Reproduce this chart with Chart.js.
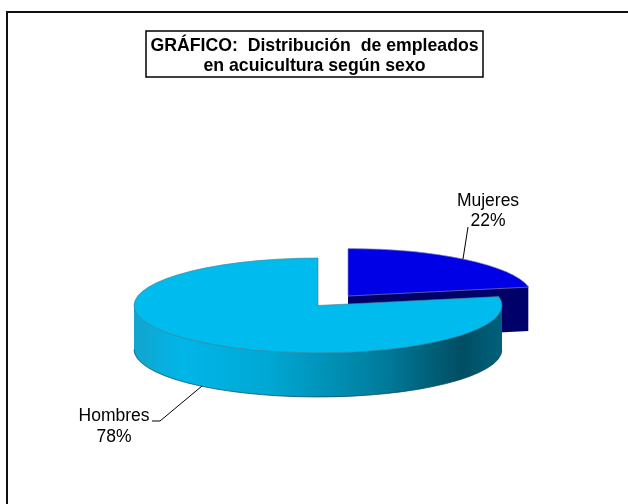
<!DOCTYPE html>
<html><head><meta charset="utf-8">
<style>html,body{margin:0;padding:0;background:#fff}#w{position:relative;width:628px;height:504px}canvas{position:absolute;left:0;top:0}</style>
<script src="https://cdn.jsdelivr.net/npm/chart.js@4/dist/chart.umd.min.js"></script>
</head><body><div id="w"><canvas id="c" width="628" height="504"></canvas></div>
<script>
const categories = ['Hombres', 'Mujeres'];
const percentages = [78, 22];
const topColors = ['#00BBEE', '#0000E6'];
const sideColors = ['#00BBEE', '#00006A'];
const titleLines = ['GRÁFICO:  Distribución  de empleados', 'en acuicultura según sexo'];
const FONT = '"Liberation Sans", Arial, sans-serif';

const squash = 0.258, cyFix = 305.5, cxFix = 318, depth = 44, radius = 184;

const pie3d = {
  id: 'pie3d',
  beforeDraw(chart) {
    const c = chart.ctx;
    c.save();
    c.fillStyle = '#fff'; c.fillRect(0, 0, 628, 504);
    c.strokeStyle = '#111'; c.lineWidth = 2;
    c.beginPath(); c.moveTo(628, 12); c.lineTo(7, 12); c.lineTo(7, 504); c.stroke();
    c.restore();
  },
  beforeDatasetsDraw(chart) {
    const meta = chart.getDatasetMeta(0);
    const c = chart.ctx;
    const a0 = meta.data[0], a1 = meta.data[1];
    const drawArc = (arc, fill, stroke, off, offx) => {
      c.save();
      c.translate(cxFix + (offx || 0), cyFix + off);
      c.scale(1, squash);
      c.translate(-a0.x, -a0.y);
      const o = arc.options, f = o.backgroundColor, s = o.borderColor, w = o.borderWidth;
      o.backgroundColor = fill; o.borderColor = stroke; o.borderWidth = stroke === fill ? 0 : 1;
      arc.draw(c);
      o.backgroundColor = f; o.borderColor = s; o.borderWidth = w;
      c.restore();
    };
    const mx = 30, my = -9.5;
    for (let i = depth; i > 0; i -= 1) drawArc(a1, sideColors[1], sideColors[1], i + my, mx);
    drawArc(a1, topColors[1], '#8a8ab0', my, mx);
    const g = c.createLinearGradient(134, 0, 502, 0);
    g.addColorStop(0, '#10A6CF'); g.addColorStop(0.12, '#00B6E8'); g.addColorStop(0.35, '#00A8D4');
    g.addColorStop(0.65, '#007FA0'); g.addColorStop(0.88, '#004E63'); g.addColorStop(1, '#00637E');
    for (let i = depth; i > 0; i -= 1) drawArc(a0, g, g, i, 0);
    drawArc(a0, topColors[0], '#4a8090', 0, 0);
    c.save();
    c.strokeStyle = 'rgba(0,70,90,.7)'; c.lineWidth = 1;
    c.beginPath(); c.ellipse(cxFix, cyFix + depth, radius, radius * squash, 0, 0.02, Math.PI); c.stroke();
    c.restore();
    return false;
  },
  afterDraw(chart) {
    const c = chart.ctx;
    c.save();
    c.fillStyle = '#fff'; c.fillRect(146, 31, 337, 46);
    c.strokeStyle = '#000'; c.lineWidth = 1.5; c.strokeRect(146, 31, 337, 46);
    c.fillStyle = '#000'; c.textAlign = 'center'; c.textBaseline = 'alphabetic';
    c.font = 'bold 17.7px ' + FONT;
    c.fillText(titleLines[0], 314.5, 51);
    c.fillText(titleLines[1], 314.5, 70.5);
    c.font = '17.5px ' + FONT;
    c.fillText(categories[1], 488, 206);
    c.fillText(percentages[1] + '%', 488, 226);
    c.fillText(categories[0], 114, 421);
    c.fillText(percentages[0] + '%', 114, 442);
    c.strokeStyle = '#000'; c.lineWidth = 1;
    c.beginPath(); c.moveTo(468, 227); c.lineTo(463, 259); c.stroke();
    c.beginPath(); c.moveTo(152, 421); c.lineTo(160, 421); c.lineTo(202, 386); c.stroke();
    c.restore();
  }
};

new Chart(document.getElementById('c'), {
  type: 'pie',
  data: { labels: categories, datasets: [{ data: percentages, backgroundColor: topColors, borderWidth: 0 }] },
  options: {
    responsive: false, animation: false, rotation: 79.2,
    layout: { padding: 0 },
    radius: radius,
    plugins: { legend: { display: false }, title: { display: false }, tooltip: { enabled: false } }
  },
  plugins: [pie3d]
});
</script></body></html>
